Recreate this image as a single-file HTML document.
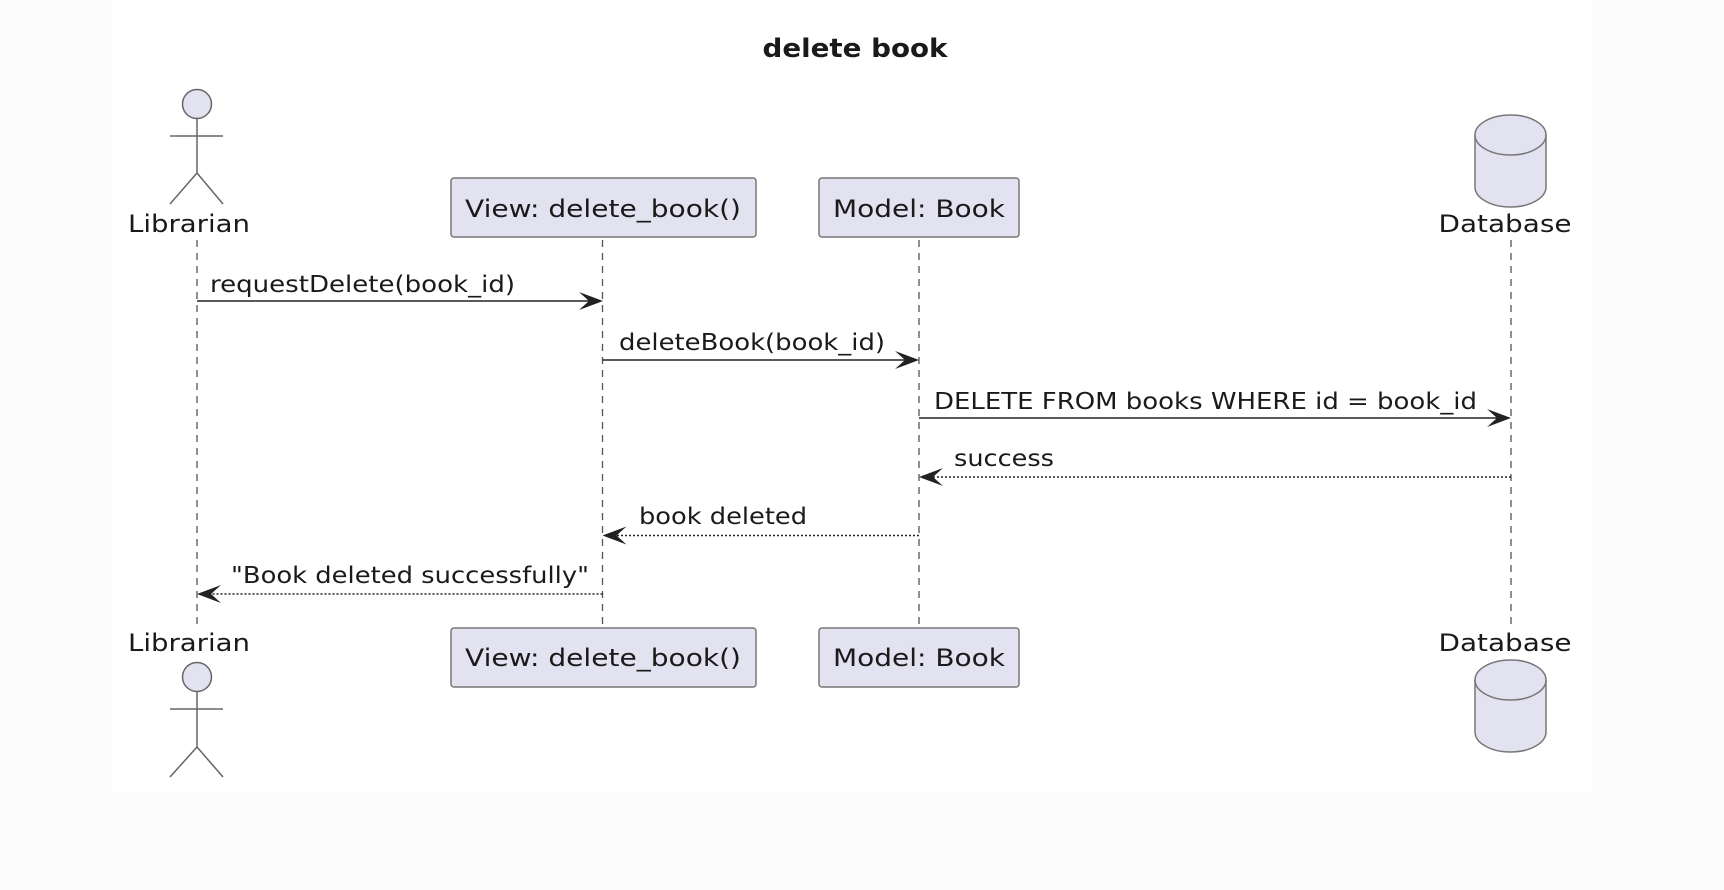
<!DOCTYPE html>
<html><head><meta charset="utf-8"><style>
html,body{margin:0;padding:0;background:#fbfbfb;}
svg{display:block;}
text{font-family:"DejaVu Sans","Liberation Sans",sans-serif;fill:#1a1a1a;}
</style></head><body>
<svg width="1724" height="890" viewBox="0 0 1724 890" xmlns="http://www.w3.org/2000/svg">
<rect x="0" y="0" width="1724" height="890" fill="#fbfbfb"/>
<rect x="112" y="0" width="1480" height="792" fill="#ffffff"/>
<text x="855" y="57" text-anchor="middle" font-size="26" font-weight="bold" textLength="185" lengthAdjust="spacingAndGlyphs">delete book</text>

<g stroke="#555" stroke-width="1.3" stroke-dasharray="7,6" fill="none">
<line x1="197" y1="240" x2="197" y2="628"/>
<line x1="602.5" y1="240" x2="602.5" y2="628"/>
<line x1="919" y1="240" x2="919" y2="628"/>
<line x1="1511" y1="240" x2="1511" y2="628"/>
</g>

<g stroke="#666" stroke-width="1.5" fill="none">
<ellipse cx="197" cy="104" rx="14.5" ry="14.5" fill="#e2e2f0"/>
<line x1="197" y1="119" x2="197" y2="173"/>
<line x1="170" y1="136" x2="223" y2="136"/>
<line x1="197" y1="173" x2="170" y2="204"/>
<line x1="197" y1="173" x2="223" y2="204"/>
</g>
<text x="189" y="232" text-anchor="middle" font-size="24" textLength="122" lengthAdjust="spacingAndGlyphs">Librarian</text>
<g stroke="#666" stroke-width="1.5" fill="none">
<ellipse cx="197" cy="677" rx="14.5" ry="14.5" fill="#e2e2f0"/>
<line x1="197" y1="692" x2="197" y2="747"/>
<line x1="170" y1="709" x2="223" y2="709"/>
<line x1="197" y1="747" x2="170" y2="777"/>
<line x1="197" y1="747" x2="223" y2="777"/>
</g>
<text x="189" y="651" text-anchor="middle" font-size="24" textLength="122" lengthAdjust="spacingAndGlyphs">Librarian</text>

<g fill="#e2e2f0" stroke="#777" stroke-width="1.5">
<rect x="451" y="178" width="305" height="59" rx="3"/>
<rect x="819" y="178" width="200" height="59" rx="3"/>
<rect x="451" y="628" width="305" height="59" rx="3"/>
<rect x="819" y="628" width="200" height="59" rx="3"/>
</g>
<text x="603" y="217" text-anchor="middle" font-size="24" textLength="276" lengthAdjust="spacingAndGlyphs">View: delete_book()</text>
<text x="919" y="217" text-anchor="middle" font-size="24" textLength="172" lengthAdjust="spacingAndGlyphs">Model: Book</text>
<text x="603" y="666" text-anchor="middle" font-size="24" textLength="276" lengthAdjust="spacingAndGlyphs">View: delete_book()</text>
<text x="919" y="666" text-anchor="middle" font-size="24" textLength="172" lengthAdjust="spacingAndGlyphs">Model: Book</text>

<g fill="#e2e2f0" stroke="#777" stroke-width="1.5">
<path d="M1475,135 A35.5,20 0 0 1 1546,135 L1546,187 A35.5,20 0 0 1 1475,187 Z"/>
<path d="M1475,135 A35.5,20 0 0 0 1546,135" fill="none"/>
<path d="M1475,680 A35.5,20 0 0 1 1546,680 L1546,732 A35.5,20 0 0 1 1475,732 Z"/>
<path d="M1475,680 A35.5,20 0 0 0 1546,680" fill="none"/>
</g>
<text x="1505" y="232" text-anchor="middle" font-size="24" textLength="133" lengthAdjust="spacingAndGlyphs">Database</text>
<text x="1505" y="651" text-anchor="middle" font-size="24" textLength="133" lengthAdjust="spacingAndGlyphs">Database</text>

<g stroke="#222" stroke-width="1.6" fill="none">
<line x1="197" y1="301" x2="596" y2="301"/>
<line x1="602.5" y1="360" x2="913" y2="360"/>
<line x1="919" y1="418" x2="1505" y2="418"/>
</g>
<g stroke="#222" stroke-width="1.6" stroke-dasharray="2,2" fill="none">
<line x1="1511" y1="477" x2="925" y2="477"/>
<line x1="919" y1="535.5" x2="608" y2="535.5"/>
<line x1="602.5" y1="594" x2="203" y2="594"/>
</g>
<g fill="#222">
<polygon points="603,301 579,292 589,301 579,310"/>
<polygon points="919,360 895,351 905,360 895,369"/>
<polygon points="1511,418 1487,409 1497,418 1487,427"/>
<polygon points="919,477 943,468 933,477 943,486"/>
<polygon points="602.5,535.5 626.5,526.5 616.5,535.5 626.5,544.5"/>
<polygon points="197,594 221,585 211,594 221,603"/>
</g>
<g font-size="23">
<text x="210" y="292" textLength="305" lengthAdjust="spacingAndGlyphs">requestDelete(book_id)</text>
<text x="619" y="350" textLength="266" lengthAdjust="spacingAndGlyphs">deleteBook(book_id)</text>
<text x="934" y="409" textLength="543" lengthAdjust="spacingAndGlyphs">DELETE FROM books WHERE id = book_id</text>
<text x="954" y="466" textLength="100" lengthAdjust="spacingAndGlyphs">success</text>
<text x="639" y="524" textLength="168" lengthAdjust="spacingAndGlyphs">book deleted</text>
<text x="231" y="583" textLength="358" lengthAdjust="spacingAndGlyphs">"Book deleted successfully"</text>
</g>
</svg>
</body></html>
